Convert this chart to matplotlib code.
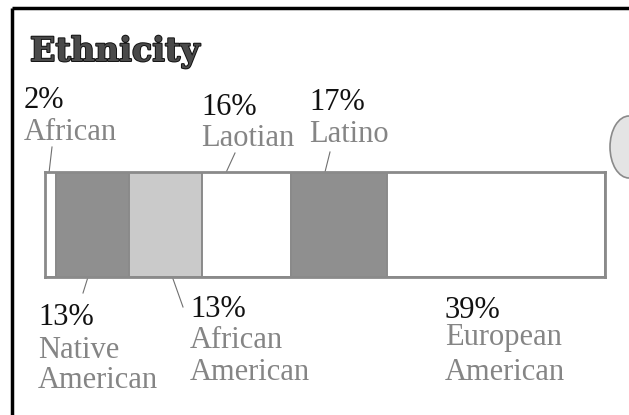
import numpy as np
import matplotlib
matplotlib.use('Agg')
import matplotlib.pyplot as plt
from matplotlib.patches import Ellipse
import matplotlib.patheffects as pe

# ethnic groups, left to right along the bar
groups = ['African', 'Native\nAmerican', 'African\nAmerican', 'Laotian', 'Latino', 'European\nAmerican']
shares = [2, 13, 13, 16, 17, 39]
fills = ['#ffffff', '#8f8f8f', '#cacaca', '#ffffff', '#8f8f8f', '#ffffff']

W, H = 629, 415
fig = plt.figure(figsize=(W / 100, H / 100), dpi=100)
fig.patch.set_facecolor('white')

# overlay in pixel units for the frame, title and labels
over = fig.add_axes([0, 0, 1, 1])
over.set_xlim(0, W)
over.set_ylim(H, 0)
over.axis('off')

# bar axes
bx0, bx1, by0, by1 = 45, 605, 172, 277
ax = fig.add_axes([bx0 / W, 1 - by1 / H, (bx1 - bx0) / W, (by1 - by0) / H])
left = np.concatenate([[0], np.cumsum(shares)[:-1]])
ax.barh(0.5, shares, left=left, height=1.0, color=fills,
        edgecolor='#8a8a8a', linewidth=1.4)
ax.set_xlim(0, sum(shares))
ax.set_ylim(0, 1)
ax.set_xticks([])
ax.set_yticks([])
for s in ax.spines.values():
    s.set_color('#8a8a8a')
    s.set_linewidth(2)

# page frame (left and top rules)
over.plot([12, 12], [8, H], color='black', lw=2.5, solid_capstyle='butt')
over.plot([12, W], [8, 8], color='black', lw=2.5, solid_capstyle='butt')

# cut-off ornament at the right edge
over.add_patch(Ellipse((629, 147), 38, 62, facecolor='#e4e4e4',
                       edgecolor='#8a8a8a', lw=1.2))

# title
over.text(30, 61, 'Ethnicity', fontsize=24, fontweight='bold',
          family='DejaVu Serif', color='#4a4a4a',
          path_effects=[pe.Stroke(linewidth=1.4, foreground='#111111'), pe.Normal()])

serif = 'Liberation Serif'
pct_color = '#111111'
name_color = '#858585'
fs = 22

# label placement: x, baseline of percent, baseline of each name line
labels = [
    (24, 108, [140]),
    (38, 325, [358, 388]),
    (190, 317, [348, 380]),
    (201, 115, [146]),
    (309, 110, [142]),
    (445, 318, [345, 380]),
]
for name, val, (x, yp, ylines) in zip(groups, shares, labels):
    over.text(x, yp, f'{val}%', fontsize=fs, family=serif, color=pct_color, va='baseline')
    for line, yl in zip(name.split('\n'), ylines):
        over.text(x, yl, line, fontsize=fs, family=serif, color=name_color, va='baseline')

# leader lines from labels to segments
leaders = [
    ((52, 147), (49, 173)),
    ((88, 277), (83, 293)),
    ((167, 262), (183, 307)),
    ((235, 153), (218, 190)),
    ((330, 152), (323, 180)),
]
for (x0, y0), (x1, y1) in leaders:
    over.plot([x0, x1], [y0, y1], color='#707070', lw=0.8)

fig.savefig('out.png', dpi=100, facecolor='white')
